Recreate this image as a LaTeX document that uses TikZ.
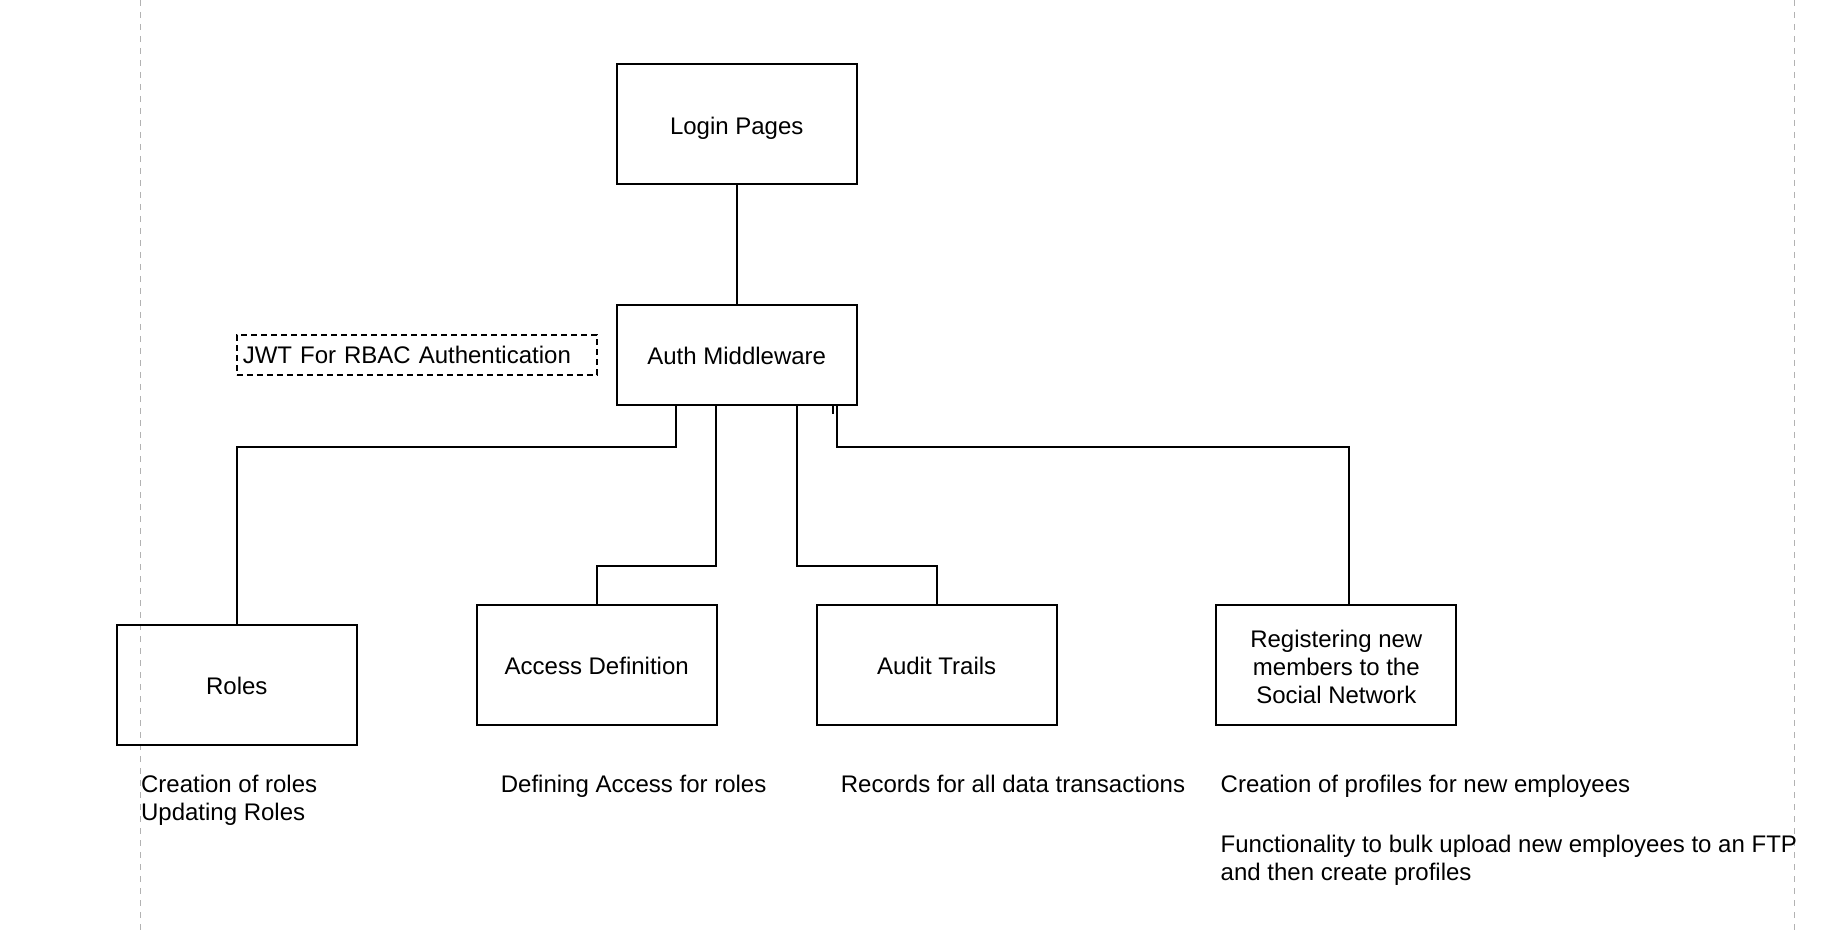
\documentclass[tikz,border=0pt]{standalone}
\usepackage{fontspec}
\setmainfont{Liberation Sans}
\begin{document}
\begin{tikzpicture}[x=0.5pt,y=-0.5pt,
  box/.style={draw=black,line width=1pt,rectangle,minimum width=120pt,minimum height=60pt,inner sep=2pt,align=center,font=\fontsize{12}{14}\selectfont},
  oneline/.style={text height=9.8pt,text depth=0pt},
  note/.style={inner sep=0pt,align=left,font=\fontsize{12}{14}\selectfont},
  conn/.style={draw=black,line width=1pt},
  guide/.style={draw=black!30,line width=0.6pt,dash pattern=on 3pt off 3pt}]
\useasboundingbox (0,0) rectangle (1838,936);
\coordinate (gl1) at (140.7,0); \coordinate (gl2) at (140.7,932);
\coordinate (gr1) at (1794.5,0); \coordinate (gr2) at (1794.5,932);
\draw[guide] (gl1) -- (gl2);
\draw[guide] (gr1) -- (gr2);
\node[box,oneline] (login) at (736.75,124.25) {Login Pages};
\node[box,oneline,minimum height=50pt] (auth) at (736.75,354.6) {Auth Middleware};
\node[draw=black,line width=0.8pt,dash pattern=on 3pt off 2pt,minimum width=180pt,minimum height=20pt,inner sep=2pt,font=\fontsize{12}{14}\selectfont,text width=174pt,align=left] (jwt) at (416.8,355.2) {JWT For RBAC Authentication};
\node[box,oneline] (roles) at (236.8,684.6) {Roles};
\node[box,oneline] (access) at (596.7,664.6) {Access Definition};
\node[box,oneline] (audit) at (936.6,664.6) {Audit Trails};
\node[box] (reg) at (1336.3,664.6) {\rule{0pt}{11.2pt}Registering new\\members to the\\Social Network};
\draw[conn] (login) -- (auth);
\draw[conn] ([xshift=-30.2pt]auth.south) -- ++(0,41) -| (roles.north);
\draw[conn] ([xshift=-10.25pt]auth.south) -- ++(0,160.6) -| (access.north);
\draw[conn] ([xshift=30.2pt]auth.south) -- ++(0,160.6) -| (audit.north);
\draw[conn] ([xshift=50.1pt]auth.south) -- ++(0,41) -| ([xshift=6.45pt]reg.north);
\draw[conn] ([xshift=48pt]auth.south) -- ++(0,8);
\node[note,anchor=west] (t1) at (140.7,800.2) {Creation of roles\\Updating Roles};
\node[note,anchor=west] (t2) at (500.5,786.2) {Defining Access for roles};
\node[note,anchor=west] (t3) at (840.5,784.2) {Records for all data transactions};
\node[note,anchor=west] (t4) at (1220.3,786.2) {Creation of profiles for new employees};
\node[note,anchor=west] (t5) at (1220.3,860) {Functionality to bulk upload new employees to an FTP\\and then create profiles};
\end{tikzpicture}
\end{document}
